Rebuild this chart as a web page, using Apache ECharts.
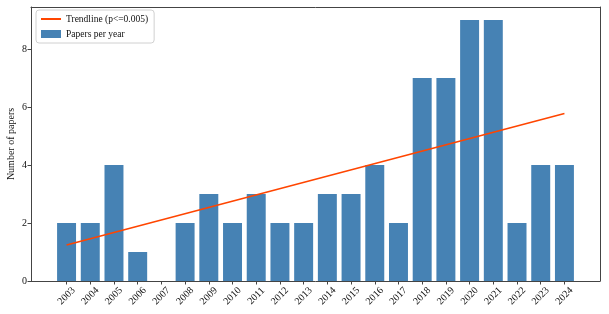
<!DOCTYPE html>
<html>
<head>
<meta charset="utf-8">
<script src="https://cdn.jsdelivr.net/npm/echarts@6/dist/echarts.min.js"></script>
<style>html,body{margin:0;padding:0;background:#fff}#c{width:609px;height:314px}</style>
</head>
<body>
<div id="c"></div>
<script>
const years = ['2003','2004','2005','2006','2007','2008','2009','2010','2011','2012','2013','2014','2015','2016','2017','2018','2019','2020','2021','2022','2023','2024'];
const papers = [2,2,4,1,0,2,3,2,3,2,2,3,3,4,2,7,7,9,9,2,4,4];
const trendYears = ['2003','2024'];
const trendValues = [1.24, 5.78];
const yTicks = [0,2,4,6,8];

// pad one empty category at each end to reproduce the outer margin
const cats = [''].concat(years, ['']);
const barData = [null].concat(papers, [null]);
const lineData = trendYears.map((y, i) => [y, trendValues[i]]);

const font = 'Liberation Serif';
const frameColor = '#444';
const chart = echarts.init(document.getElementById('c'), null, {renderer: 'canvas'});
chart.setOption({
  animation: false,
  textStyle: {fontFamily: font},
  grid: {left: 31, right: 9, top: 7, bottom: 33, containLabel: false, outerBoundsMode: 'none'},
  legend: {
    orient: 'vertical', left: 36, top: 10,
    backgroundColor: '#fff', borderColor: '#d0d0d0', borderWidth: 1, borderRadius: 3,
    padding: [4, 6, 4, 4], itemGap: 5, itemWidth: 20, itemHeight: 8,
    textStyle: {fontFamily: font, fontSize: 9.5, color: '#111'},
    data: [
      {name: 'Trendline (p<=0.005)', itemStyle: {color: 'rgba(0,0,0,0)', borderWidth: 0, opacity: 0}},
      {name: 'Papers per year', icon: 'rect'}
    ]
  },
  xAxis: [{
    type: 'category', data: cats, boundaryGap: true,
    axisLine: {show: true, onZero: false, lineStyle: {color: frameColor}},
    axisTick: {show: true, alignWithLabel: true, length: 3.5, lineStyle: {color: frameColor},
      interval: (i, v) => v !== ''},
    axisLabel: {interval: 0, rotate: 45, align: 'center', verticalAlign: 'middle', margin: 15,
      fontFamily: font, fontSize: 10, color: '#111'},
    splitLine: {show: false}
  }, {
    type: 'category', data: cats, position: 'top', show: true,
    axisLine: {show: true, onZero: false, lineStyle: {color: frameColor}},
    axisTick: {show: false}, axisLabel: {show: false}, splitLine: {show: false}
  }],
  yAxis: [{
    type: 'value', min: 0, max: 9.45, interval: 2,
    name: 'Number of papers', nameLocation: 'middle', nameGap: 15, nameMoveOverlap: false,
    nameTextStyle: {fontFamily: font, fontSize: 10, color: '#111'},
    axisLine: {show: true, onZero: false, lineStyle: {color: frameColor}},
    axisTick: {show: true, length: 3.5, lineStyle: {color: frameColor}, customValues: yTicks},
    axisLabel: {fontFamily: font, fontSize: 10, color: '#111', margin: 4, customValues: yTicks},
    splitLine: {show: false}
  }, {
    type: 'value', min: 0, max: 9.45, position: 'right', show: true,
    axisLine: {show: true, onZero: false, lineStyle: {color: frameColor}},
    axisTick: {show: false}, axisLabel: {show: false}, splitLine: {show: false}
  }],
  series: [
    {
      name: 'Trendline (p<=0.005)', type: 'line', data: lineData, symbol: 'none',
      lineStyle: {color: '#ff4500', width: 1.6}, itemStyle: {color: '#ff4500'}, z: 5
    },
    {
      name: 'Papers per year', type: 'bar', data: barData, barCategoryGap: '20%',
      itemStyle: {color: '#4682b4', borderWidth: 0}, z: 2
    }
  ]
});
</script>
</body>
</html>
